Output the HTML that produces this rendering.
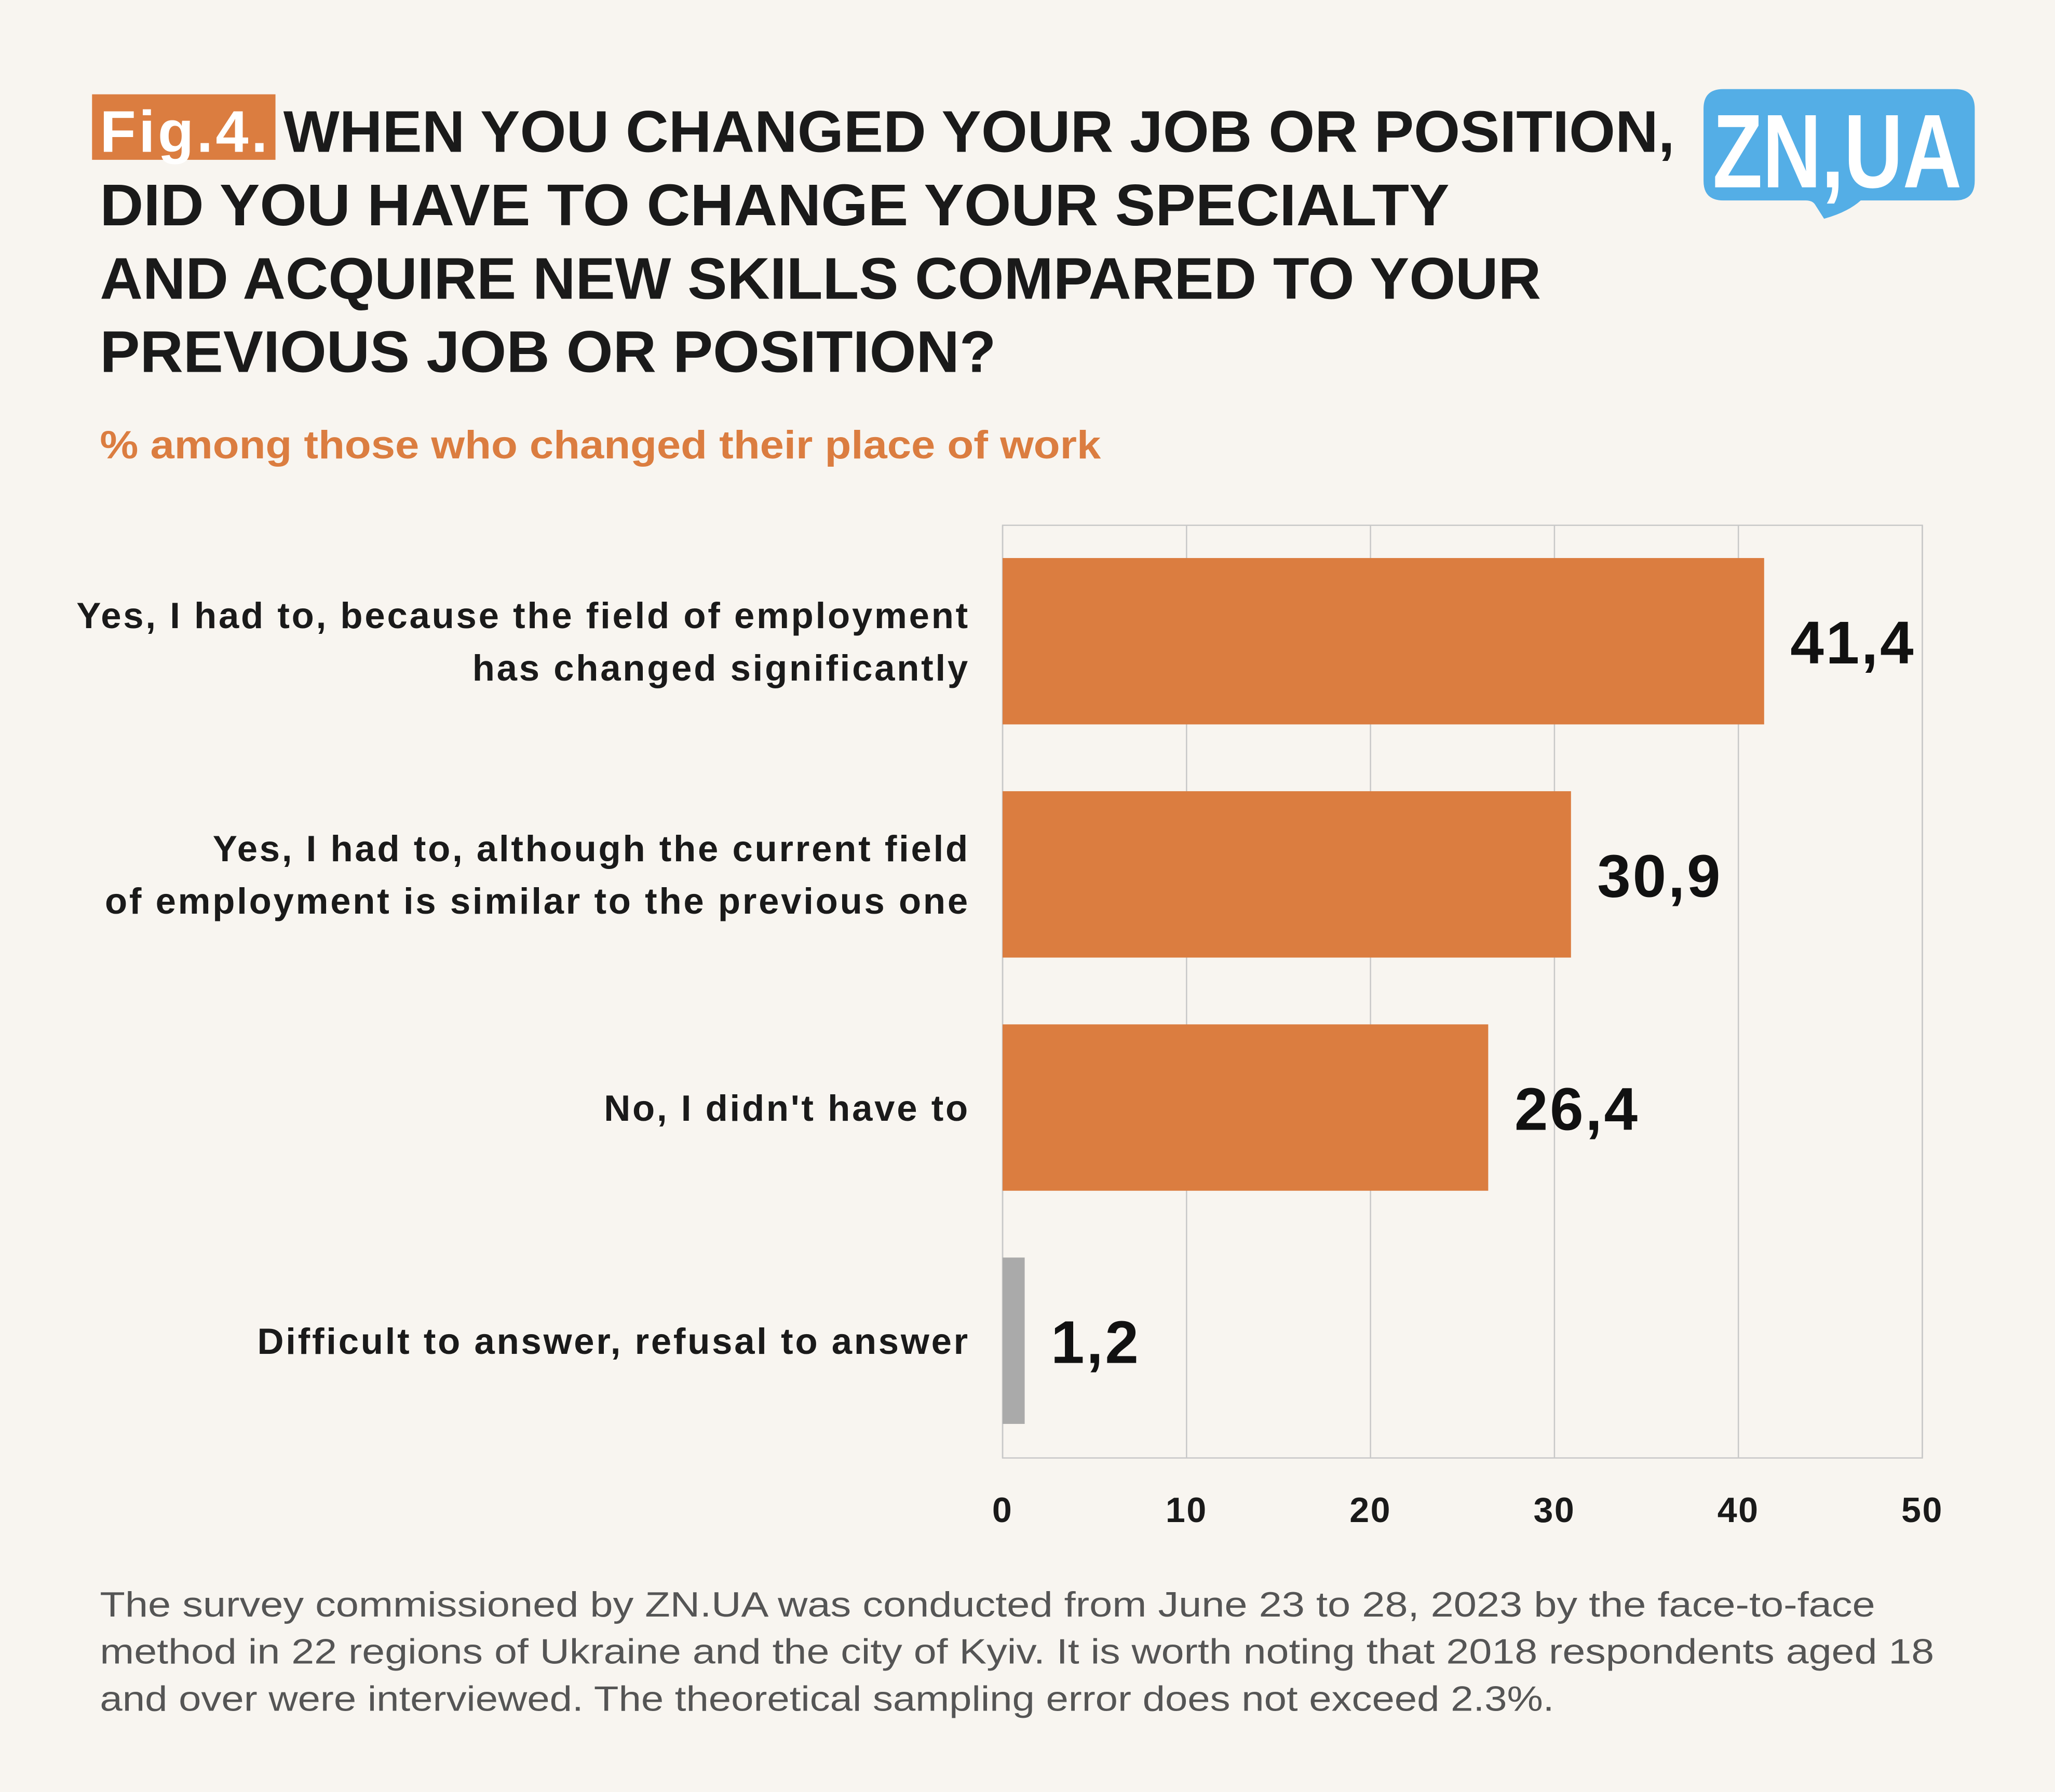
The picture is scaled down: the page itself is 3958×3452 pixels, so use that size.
<!DOCTYPE html>
<html><head><meta charset="utf-8"><style>html,body{margin:0;padding:0;background:#f8f5f0}svg{display:block}text{font-family:"Liberation Sans",sans-serif}</style></head>
<body>
<svg id="chart" width="3958" height="3452" viewBox="0 0 1568 1368" xmlns="http://www.w3.org/2000/svg">
<rect width="1568" height="1368" fill="#f8f5f0"/>
<g font-weight="bold" font-size="45" fill="#1a1a1a">
<rect x="70" y="72" width="140" height="50" fill="#db7d40"/>
<text x="76" y="116" fill="#fff" textLength="128">Fig.4.</text>
<text x="216" y="116" textLength="1062" lengthAdjust="spacingAndGlyphs">WHEN YOU CHANGED YOUR JOB OR POSITION,</text>
<text x="76" y="172" textLength="1030" lengthAdjust="spacingAndGlyphs">DID YOU HAVE TO CHANGE YOUR SPECIALTY</text>
<text x="76" y="228" textLength="1100" lengthAdjust="spacingAndGlyphs">AND ACQUIRE NEW SKILLS COMPARED TO YOUR</text>
<text x="76" y="284" textLength="684" lengthAdjust="spacingAndGlyphs">PREVIOUS JOB OR POSITION?</text>
</g>
<text x="76" y="350" font-size="30" font-weight="bold" fill="#db7d40" textLength="764" lengthAdjust="spacingAndGlyphs">% among those who changed their place of work</text>
<g>
<path d="M1315 68 H1492 Q1507 68 1507 83 V138 Q1507 153 1492 153 H1420 Q1410 162 1392 167 L1385 156 Q1383 153 1378 153 H1315 Q1300 153 1300 138 V83 Q1300 68 1315 68 Z" fill="#54aee6"/>
<text x="1307" y="143" font-size="80" font-weight="bold" fill="#fff" textLength="190" lengthAdjust="spacingAndGlyphs">ZN,UA</text>
</g>
<g id="plot"></g>
<g font-size="27" fill="#555">
<text x="76" y="1234" textLength="1355" lengthAdjust="spacingAndGlyphs">The survey commissioned by ZN.UA was conducted from June 23 to 28, 2023 by the face-to-face</text>
<text x="76" y="1270" textLength="1400" lengthAdjust="spacingAndGlyphs">method in 22 regions of Ukraine and the city of Kyiv. It is worth noting that 2018 respondents aged 18</text>
<text x="76" y="1306" textLength="1110" lengthAdjust="spacingAndGlyphs">and over were interviewed. The theoretical sampling error does not exceed 2.3%.</text>
</g>
</svg>
<script>
const categories = [
  ["Yes, I had to, because the field of employment", "has changed significantly"],
  ["Yes, I had to, although the current field", "of employment is similar to the previous one"],
  ["No, I didn't have to"],
  ["Difficult to answer, refusal to answer"]
];
const values = [41.4, 30.9, 26.4, 1.2];
const valueLabels = ["41,4", "30,9", "26,4", "1,2"];
const barColors = ["#db7d40", "#db7d40", "#db7d40", "#aaaaaa"];
const ticks = [0, 10, 20, 30, 40, 50];
const NS = "http://www.w3.org/2000/svg";
const plot = document.getElementById("plot");
const x0 = 765, x1 = 1467, y0 = 401, y1 = 1113, xMax = 50;
const xs = v => x0 + (v / xMax) * (x1 - x0);
const bandTop = 426, bandStep = 178, barH = 127;
function mk(tag, attrs) { const e = document.createElementNS(NS, tag); for (const k in attrs) e.setAttribute(k, attrs[k]); plot.appendChild(e); return e; }
const frame = mk("rect", {x: x0, y: y0, width: x1 - x0, height: y1 - y0, fill: "none", stroke: "#c8c8c8", "stroke-width": 1});


ticks.forEach(t => {
  const g = mk("line", {x1: xs(t), x2: xs(t), y1: y0, y2: y1, stroke: "#c8c8c8", "stroke-width": 1});
  
  
  const l = mk("text", {x: xs(t), y: 1162, "text-anchor": "middle", "font-size": 27, "font-weight": "bold", fill: "#1a1a1a", "letter-spacing": 1});
  l.textContent = t;
  
  
});
values.forEach((v, i) => {
  const top = bandTop + i * bandStep, cy = top + barH / 2;
  const b = mk("rect", {x: x0, y: top, width: xs(v) - x0, height: barH, fill: barColors[i]});
  
  
  const vl = mk("text", {x: xs(v) + 20, y: cy + 17, "font-size": 46, "font-weight": "bold", fill: "#111", "letter-spacing": 1.5});
  vl.textContent = valueLabels[i];
  
  
  const lines = categories[i];
  lines.forEach((ln, j) => {
    const y = cy + 10 + (j - (lines.length - 1) / 2) * 40;
    const t = mk("text", {x: 740, y: y, "text-anchor": "end", "font-size": 28, "font-weight": "bold", fill: "#1a1a1a", "letter-spacing": 1.5});
    t.textContent = ln;
    
    
  });
});
</script>
</body></html>
